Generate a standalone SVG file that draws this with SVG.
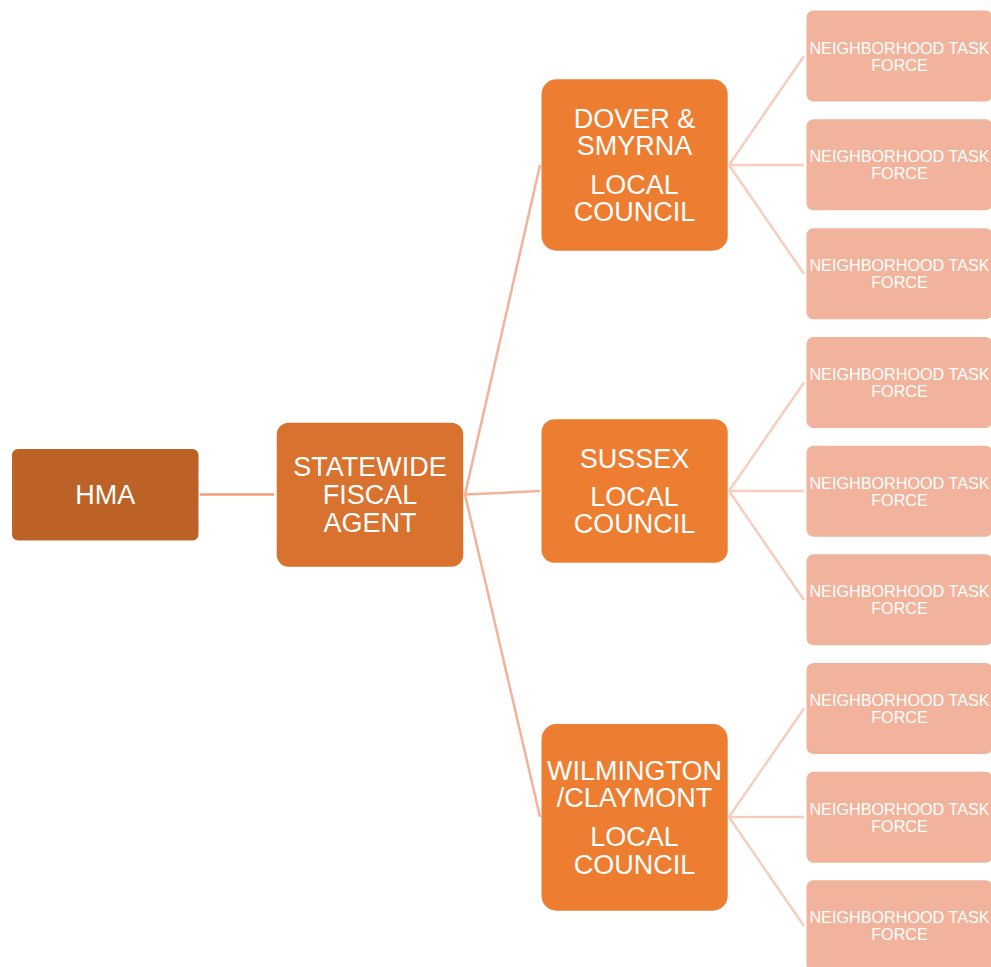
<svg xmlns="http://www.w3.org/2000/svg" width="991" height="967" viewBox="0 0 991 967">
<style>
.t{font-family:"Liberation Sans",Arial,sans-serif;fill:#ffffff;text-anchor:middle}
.big{font-size:27px}
.sm{font-size:16.2px}
.c0{stroke:#F29C78;stroke-width:2.5;fill:none}
.c1{stroke:#F4B29A;stroke-width:2.5;fill:none}
.c2{stroke:#F7CDBE;stroke-width:2.5;fill:none}
.ntf{fill:#F2B39C}
.lc{fill:#ED7D31}
</style>
<rect width="991" height="967" fill="#ffffff"/>
<g id="connectors">
<line class="c0" x1="200" y1="494.5" x2="274" y2="494.5"/>
<line class="c1" x1="465" y1="494.5" x2="540" y2="165"/>
<line class="c1" x1="465" y1="494.5" x2="540" y2="491"/>
<line class="c1" x1="465" y1="494.5" x2="540" y2="817"/>
<line class="c2" x1="729" y1="165" x2="804" y2="56"/>
<line class="c2" x1="729" y1="165" x2="804" y2="165"/>
<line class="c2" x1="729" y1="165" x2="804" y2="273.8"/>
<line class="c2" x1="729" y1="491" x2="804" y2="382.5"/>
<line class="c2" x1="729" y1="491" x2="804" y2="491"/>
<line class="c2" x1="729" y1="491" x2="804" y2="600"/>
<line class="c2" x1="729" y1="817" x2="804" y2="708.5"/>
<line class="c2" x1="729" y1="817" x2="804" y2="817"/>
<line class="c2" x1="729" y1="817" x2="804" y2="926"/>
</g>
<g id="hma">
<rect x="12" y="449" width="186.5" height="91.5" rx="6" fill="#BD6226"/>
<text class="t big" x="105.3" y="503.5">HMA</text>
</g>
<g id="statewide">
<rect x="276.7" y="422.7" width="186.6" height="144" rx="12" fill="#D8722E"/>
<text class="t big" x="370" y="475.5">STATEWIDE</text>
<text class="t big" x="370" y="503.5">FISCAL</text>
<text class="t big" x="370" y="531.5">AGENT</text>
</g>
<g id="dover">
<rect class="lc" x="541.5" y="79.3" width="186.2" height="171.4" rx="15"/>
<text class="t big" x="634.6" y="127.5">DOVER &amp;</text>
<text class="t big" x="634.6" y="154.5">SMYRNA</text>
<text class="t big" x="634.6" y="193.5">LOCAL</text>
<text class="t big" x="634.6" y="220.5">COUNCIL</text>
</g>
<g id="sussex">
<rect class="lc" x="541.5" y="419.3" width="186.2" height="143.4" rx="13"/>
<text class="t big" x="634.6" y="467.5">SUSSEX</text>
<text class="t big" x="634.6" y="505.5">LOCAL</text>
<text class="t big" x="634.6" y="532.5">COUNCIL</text>
</g>
<g id="wilmington">
<rect class="lc" x="541.5" y="724" width="186.2" height="186.7" rx="15"/>
<text class="t big" x="634.6" y="779.5">WILMINGTON</text>
<text class="t big" x="634.6" y="806.5">/CLAYMONT</text>
<text class="t big" x="634.6" y="845.5">LOCAL</text>
<text class="t big" x="634.6" y="873.5">COUNCIL</text>
</g>
<g id="ntf1"><rect class="ntf" x="806.5" y="10.5" width="186" height="91" rx="7"/><text class="t sm" x="899.5" y="53.5">NEIGHBORHOOD TASK</text><text class="t sm" x="899.5" y="70.5">FORCE</text></g>
<g id="ntf2"><rect class="ntf" x="806.5" y="119.3" width="186" height="91" rx="7"/><text class="t sm" x="899.5" y="162.3">NEIGHBORHOOD TASK</text><text class="t sm" x="899.5" y="179.3">FORCE</text></g>
<g id="ntf3"><rect class="ntf" x="806.5" y="228.3" width="186" height="91" rx="7"/><text class="t sm" x="899.5" y="271.3">NEIGHBORHOOD TASK</text><text class="t sm" x="899.5" y="288.3">FORCE</text></g>
<g id="ntf4"><rect class="ntf" x="806.5" y="337" width="186" height="91" rx="7"/><text class="t sm" x="899.5" y="380">NEIGHBORHOOD TASK</text><text class="t sm" x="899.5" y="397">FORCE</text></g>
<g id="ntf5"><rect class="ntf" x="806.5" y="445.7" width="186" height="91" rx="7"/><text class="t sm" x="899.5" y="488.7">NEIGHBORHOOD TASK</text><text class="t sm" x="899.5" y="505.7">FORCE</text></g>
<g id="ntf6"><rect class="ntf" x="806.5" y="554.3" width="186" height="91" rx="7"/><text class="t sm" x="899.5" y="597.3">NEIGHBORHOOD TASK</text><text class="t sm" x="899.5" y="614.3">FORCE</text></g>
<g id="ntf7"><rect class="ntf" x="806.5" y="663" width="186" height="91" rx="7"/><text class="t sm" x="899.5" y="706">NEIGHBORHOOD TASK</text><text class="t sm" x="899.5" y="723">FORCE</text></g>
<g id="ntf8"><rect class="ntf" x="806.5" y="771.7" width="186" height="91" rx="7"/><text class="t sm" x="899.5" y="814.7">NEIGHBORHOOD TASK</text><text class="t sm" x="899.5" y="831.7">FORCE</text></g>
<g id="ntf9"><rect class="ntf" x="806.5" y="880.3" width="186" height="91" rx="7"/><text class="t sm" x="899.5" y="923.3">NEIGHBORHOOD TASK</text><text class="t sm" x="899.5" y="940.3">FORCE</text></g>
</svg>
